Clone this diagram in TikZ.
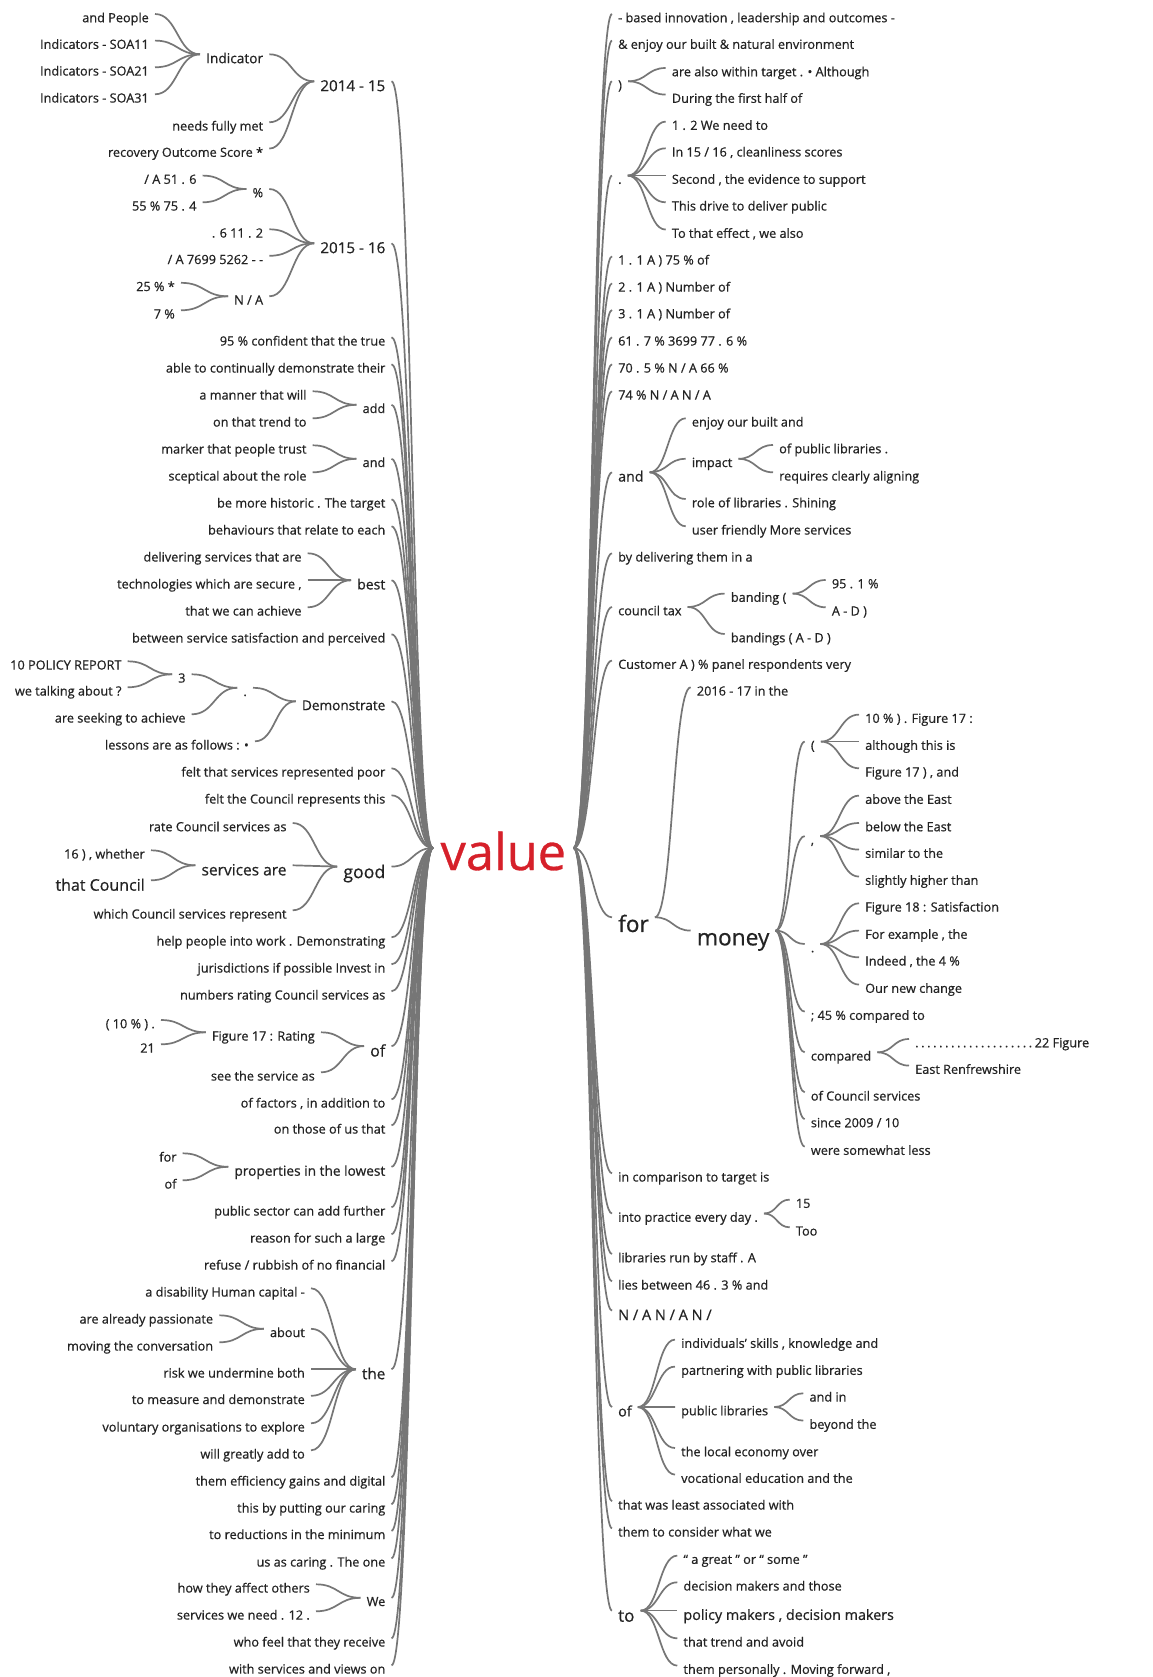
\documentclass[tikz,border=0pt]{standalone}
\usepackage{fontspec}
\setmainfont{Open Sans}[FakeBold=0.6]
\usetikzlibrary{calc}
\definecolor{linkgray}{RGB}{118,118,118}
\definecolor{txt}{RGB}{35,35,35}
\definecolor{rootred}{RGB}{214,32,42}
\newcommand\wtdot{.\hspace{2.6pt}}
\tikzset{
  fs/.style={font=\fontsize{#1}{#1}\selectfont, text height=1.3*#1pt, text depth=0pt},
  word/.style={text=txt, inner ysep=0pt, inner xsep=6pt, fs=12.7},
  lw/.style={word, anchor=east, xshift=6pt, yshift=2.7pt},
  rw/.style={word, anchor=west, xshift=-6pt, yshift=2.7pt},
  root/.style={font=\fontsize{50.5}{50.5}\selectfont, text=rootred, inner ysep=0pt,
    inner xsep=7.5pt, text height=44pt, text depth=0pt},
  link/.style={draw=linkgray, line width=1.7pt,
    to path={let \p1=(\tikztostart), \p2=(\tikztotarget) in
      .. controls ({0.5*\x1+0.5*\x2},\y1) and ({0.5*\x1+0.5*\x2},\y2) .. (\tikztotarget)}},
}
\begin{document}
\begin{tikzpicture}[x=1pt,y=-1pt]
\fill[white] (0,0) rectangle (1152,1677);
\useasboundingbox (0,0) rectangle (1152,1677);

% root
\node[root] (V) at (503.3,848) {value};

% ---------- left branches ----------
\node[lw,fs=15.2] (L1) at (385.5,84) {2014 - 15};
\node[lw,fs=13.7] (L1a) at (263.3,57) {Indicator};
\node[lw] (L1a1) at (149,16.7) {and People};
\node[lw] (L1a2) at (149,43.3) {Indicators - SOA11};
\node[lw] (L1a3) at (149,70) {Indicators - SOA21};
\node[lw] (L1a4) at (149,97) {Indicators - SOA31};
\node[lw] (L1b) at (263.3,125) {needs fully met};
\node[lw] (L1c) at (263.3,151.3) {recovery Outcome Score *};
\node[lw,fs=15.2] (L2) at (385.5,246) {2015 - 16};
\node[lw] (L2a) at (263.3,191.7) {\%};
\node[lw] (L2a1) at (196.7,178.3) {/ A 51 . 6};
\node[lw] (L2a2) at (196.7,205) {55 \% 75 . 4};
\node[lw] (L2b) at (263.3,232) {. 6 11 . 2};
\node[lw] (L2c) at (263.3,258.5) {/ A 7699 5262 - -};
\node[lw] (L2d) at (263.3,299) {N / A};
\node[lw] (L2d1) at (175,285.5) {25 \% *};
\node[lw] (L2d2) at (175,313) {7 \%};
\node[lw] (L3) at (385.5,340) {95 \% confident that the true};
\node[lw] (L4) at (385.5,367) {able to continually demonstrate their};
\node[lw] (L5) at (385.5,407.5) {add};
\node[lw] (L5a) at (306.7,394) {a manner that will};
\node[lw] (L5b) at (306.7,421) {on that trend to};
\node[lw] (L6) at (385.5,461.5) {and};
\node[lw] (L6a) at (306.7,448) {marker that people trust};
\node[lw] (L6b) at (306.7,475) {sceptical about the role};
\node[lw] (L7) at (385.5,502) {be more historic . The target};
\node[lw] (L8) at (385.5,529) {behaviours that relate to each};
\node[lw,fs=14] (L9) at (385.5,583) {best};
\node[lw] (L9a) at (301.7,556) {delivering services that are};
\node[lw] (L9b) at (301.7,583) {technologies which are secure ,};
\node[lw] (L9c) at (301.7,610) {that we can achieve};
\node[lw] (L10) at (385.5,637) {between service satisfaction and perceived};
\node[lw,fs=13.6] (L11) at (385.5,704) {Demonstrate};
\node[lw] (L11a) at (247,690.5) {.};
\node[lw] (L11a1) at (185.7,677) {3};
\node[lw] (L11a1a) at (121.7,664) {10 POLICY REPORT};
\node[lw] (L11a1b) at (121.7,690) {we talking about ?};
\node[lw] (L11a2) at (185.7,717) {are seeking to achieve};
\node[lw] (L11b) at (249,744) {lessons are as follows : •};
\node[lw] (L12) at (385.5,771) {felt that services represented poor};
\node[lw] (L13) at (385.5,798) {felt the Council represents this};
\node[lw,fs=17.7] (L14) at (385.5,869.3) {good};
\node[lw] (L14a) at (286.7,825.7) {rate Council services as};
\node[lw,fs=15.5] (L14b) at (286.7,868) {services are};
\node[lw] (L14b1) at (145,853) {16 ) , whether};
\node[lw,fs=16] (L14b2) at (145,883) {that Council};
\node[lw] (L14c) at (286.7,913) {which Council services represent};
\node[lw] (L15) at (385.5,940) {help people into work . Demonstrating};
\node[lw] (L16) at (385.5,967) {jurisdictions if possible Invest in};
\node[lw] (L17) at (385.5,994) {numbers rating Council services as};
\node[lw,fs=16] (L18) at (385.5,1048.8) {of};
\node[lw] (L18a) at (315,1035) {Figure 17 : Rating};
\node[lw] (L18a1) at (155,1022.7) {( 10 \% ) .};
\node[lw] (L18a2) at (155,1047) {21};
\node[lw] (L18b) at (315,1075) {see the service as};
\node[lw] (L19) at (385.5,1102) {of factors , in addition to};
\node[lw] (L20) at (385.5,1128) {on those of us that};
\node[lw,fs=13.7] (L21) at (385.5,1169.5) {properties in the lowest};
\node[lw] (L21a) at (176.7,1156) {for};
\node[lw] (L21b) at (176.7,1183) {of};
\node[lw] (L22) at (385.5,1210) {public sector can add further};
\node[lw] (L23) at (385.5,1237) {reason for such a large};
\node[lw] (L24) at (385.5,1264) {refuse / rubbish of no financial};
\node[lw,fs=15.2] (L25) at (385.5,1372) {the};
\node[lw] (L25a) at (305,1291) {a disability Human capital -};
\node[lw] (L25b) at (305,1331.5) {about};
\node[lw] (L25b1) at (213.3,1318) {are already passionate};
\node[lw] (L25b2) at (213.3,1345) {moving the conversation};
\node[lw] (L25c) at (305,1372) {risk we undermine both};
\node[lw] (L25d) at (305,1398.5) {to measure and demonstrate};
\node[lw] (L25e) at (305,1426) {voluntary organisations to explore};
\node[lw] (L25f) at (305,1453) {will greatly add to};
\node[lw] (L26) at (385.5,1480) {them efficiency gains and digital};
\node[lw] (L27) at (385.5,1507) {this by putting our caring};
\node[lw] (L28) at (385.5,1533.5) {to reductions in the minimum};
\node[lw] (L29) at (385.5,1561) {us as caring . The one};
\node[lw] (L30) at (385.5,1600.5) {We};
\node[lw] (L30a) at (310,1587) {how they affect others};
\node[lw] (L30b) at (310,1614) {services we need . 12 .};
\node[lw] (L31) at (385.5,1641) {who feel that they receive};
\node[lw] (L32) at (385.5,1668) {with services and views on};

% ---------- right branches ----------
\node[rw] (R1) at (618,16.7) {- based innovation , leadership and outcomes -};
\node[rw] (R2) at (618,43.3) {\& enjoy our built \& natural environment};
\node[rw] (R3) at (618,84) {)};
\node[rw] (R3a) at (671.7,70.7) {are also within target . • Although};
\node[rw] (R3b) at (671.7,97.3) {During the first half of};
\node[rw] (R4) at (618,178.3) {.};
\node[rw] (R4a) at (671.7,124.3) {1 . 2 We need to};
\node[rw] (R4b) at (671.7,151) {In 15 / 16 , cleanliness scores};
\node[rw] (R4c) at (671.7,178.3) {Second , the evidence to support};
\node[rw] (R4d) at (671.7,205) {This drive to deliver public};
\node[rw] (R4e) at (671.7,232.3) {To that effect , we also};
\node[rw] (R5) at (618,259) {1 . 1 A ) 75 \% of};
\node[rw] (R6) at (618,286) {2 . 1 A ) Number of};
\node[rw] (R7) at (618,312.7) {3 . 1 A ) Number of};
\node[rw] (R8) at (618,340) {61 . 7 \% 3699 77 . 6 \%};
\node[rw] (R9) at (618,367) {70 . 5 \% N / A 66 \%};
\node[rw] (R10) at (618,394) {74 \% N / A N / A};
\node[rw,fs=14.2] (R11) at (618,475) {and};
\node[rw] (R11a) at (691.7,421) {enjoy our built and};
\node[rw] (R11b) at (691.7,461.5) {impact};
\node[rw] (R11b1) at (779,447.7) {of public libraries .};
\node[rw] (R11b2) at (779,475) {requires clearly aligning};
\node[rw] (R11c) at (691.7,501.7) {role of libraries . Shining};
\node[rw] (R11d) at (691.7,529) {user friendly More services};
\node[rw] (R12) at (618,556) {by delivering them in a};
\node[rw] (R13) at (618,609.7) {council tax};
\node[rw] (R13a) at (730.7,596.3) {banding (};
\node[rw] (R13a1) at (831.7,582.7) {95 . 1 \%};
\node[rw] (R13a2) at (831.7,610) {A - D )};
\node[rw] (R13b) at (730.7,636.7) {bandings ( A - D )};
\node[rw] (R14) at (618,663.3) {Customer A ) \% panel respondents very};
\node[rw,fs=22.6] (R15) at (618,920) {for};
\node[rw] (R15a) at (696.7,690) {2016 - 17 in the};
\node[rw,fs=22.7] (R15b) at (696.7,933.3) {money};
\node[rw] (M1) at (810.7,744.3) {(};
\node[rw] (M1a) at (865,717.3) {10 \% ) . Figure 17 :};
\node[rw] (M1b) at (865,744.3) {although this is};
\node[rw] (M1c) at (865,771) {Figure 17 ) , and};
\node[rw] (M2) at (810.7,838.8) {,};
\node[rw] (M2a) at (865,798.3) {above the East};
\node[rw] (M2b) at (865,825.7) {below the East};
\node[rw] (M2c) at (865,852.3) {similar to the};
\node[rw] (M2d) at (865,879.3) {slightly higher than};
\node[rw] (M3) at (810.7,946.7) {.};
\node[rw] (M3a) at (865,906) {Figure 18 : Satisfaction};
\node[rw] (M3b) at (865,933.3) {For example , the};
\node[rw] (M3c) at (865,960) {Indeed , the 4 \%};
\node[rw] (M3d) at (865,987.3) {Our new change};
\node[rw] (M4) at (810.7,1014.3) {; 45 \% compared to};
\node[rw] (M5) at (810.7,1055) {compared};
\node[rw] (M5a) at (915,1041.7) {\wtdot\wtdot\wtdot\wtdot\wtdot\wtdot\wtdot\wtdot\wtdot\wtdot\wtdot\wtdot\wtdot\wtdot\wtdot\wtdot\wtdot\wtdot\wtdot\wtdot 22 Figure};
\node[rw] (M5b) at (915,1068.3) {East Renfrewshire};
\node[rw] (M6) at (810.7,1095) {of Council services};
\node[rw] (M7) at (810.7,1121.7) {since 2009 / 10};
\node[rw] (M8) at (810.7,1149.3) {were somewhat less};
\node[rw] (R16) at (618,1176) {in comparison to target is};
\node[rw] (R17) at (618,1216.2) {into practice every day .};
\node[rw] (R17a) at (795.7,1202.3) {15};
\node[rw] (R17b) at (795.7,1230) {Too};
\node[rw] (R18) at (618,1256.7) {libraries run by staff . A};
\node[rw] (R19) at (618,1284) {lies between 46 . 3 \% and};
\node[rw,fs=14.5] (R20) at (618,1313.3) {N / A N / A N /};
\node[rw,fs=14.3] (R21) at (618,1409.8) {of};
\node[rw] (R21a) at (681,1342.3) {individuals' skills , knowledge and};
\node[rw] (R21b) at (681,1369.3) {partnering with public libraries};
\node[rw] (R21c) at (681,1409.7) {public libraries};
\node[rw] (R21c1) at (809.3,1396) {and in};
\node[rw] (R21c2) at (809.3,1423.3) {beyond the};
\node[rw] (R21d) at (681,1450.7) {the local economy over};
\node[rw] (R21e) at (681,1477.3) {vocational education and the};
\node[rw] (R22) at (618,1504) {that was least associated with};
\node[rw] (R23) at (618,1531) {them to consider what we};
\node[rw,fs=17] (R24) at (618,1613.3) {to};
\node[rw] (R24a) at (683.3,1558.3) {“ a great ” or “ some ”};
\node[rw] (R24b) at (683.3,1585) {decision makers and those};
\node[rw,fs=14.3] (R24c) at (683.3,1613.3) {policy makers , decision makers};
\node[rw] (R24d) at (683.3,1641) {that trend and avoid};
\node[rw] (R24e) at (683.3,1668.3) {them personally . Moving forward ,};

% ---------- connectors, left side: child -> parent ----------
\foreach \kid/\mom in {L1/V, L1a/L1, L1b/L1, L1c/L1, L1a1/L1a, L1a2/L1a, L1a3/L1a, L1a4/L1a,
  L2/V, L2a/L2, L2b/L2, L2c/L2, L2d/L2, L2a1/L2a, L2a2/L2a, L2d1/L2d, L2d2/L2d,
  L3/V, L4/V, L5/V, L5a/L5, L5b/L5, L6/V, L6a/L6, L6b/L6, L7/V, L8/V,
  L9/V, L9a/L9, L9b/L9, L9c/L9, L10/V,
  L11/V, L11a/L11, L11b/L11, L11a1/L11a, L11a2/L11a, L11a1a/L11a1, L11a1b/L11a1,
  L12/V, L13/V, L14/V, L14a/L14, L14b/L14, L14c/L14, L14b1/L14b, L14b2/L14b,
  L15/V, L16/V, L17/V, L18/V, L18a/L18, L18b/L18, L18a1/L18a, L18a2/L18a,
  L19/V, L20/V, L21/V, L21a/L21, L21b/L21, L22/V, L23/V, L24/V,
  L25/V, L25a/L25, L25b/L25, L25c/L25, L25d/L25, L25e/L25, L25f/L25, L25b1/L25b, L25b2/L25b,
  L26/V, L27/V, L28/V, L29/V, L30/V, L30a/L30, L30b/L30, L31/V, L32/V}
  \draw[link] (\kid.east) to (\mom.west);

% ---------- connectors, right side: parent -> child ----------
\foreach \mom/\kid in {V/R1, V/R2, V/R3, R3/R3a, R3/R3b, V/R4, R4/R4a, R4/R4b, R4/R4c, R4/R4d, R4/R4e,
  V/R5, V/R6, V/R7, V/R8, V/R9, V/R10,
  V/R11, R11/R11a, R11/R11b, R11/R11c, R11/R11d, R11b/R11b1, R11b/R11b2,
  V/R12, V/R13, R13/R13a, R13/R13b, R13a/R13a1, R13a/R13a2, V/R14,
  V/R15, R15/R15a, R15/R15b, R15b/M1, R15b/M2, R15b/M3, R15b/M4, R15b/M5, R15b/M6, R15b/M7, R15b/M8,
  M1/M1a, M1/M1b, M1/M1c, M2/M2a, M2/M2b, M2/M2c, M2/M2d, M3/M3a, M3/M3b, M3/M3c, M3/M3d,
  M5/M5a, M5/M5b,
  V/R16, V/R17, R17/R17a, R17/R17b, V/R18, V/R19, V/R20,
  V/R21, R21/R21a, R21/R21b, R21/R21c, R21/R21d, R21/R21e, R21c/R21c1, R21c/R21c2,
  V/R22, V/R23, V/R24, R24/R24a, R24/R24b, R24/R24c, R24/R24d, R24/R24e}
  \draw[link] (\mom.east) to (\kid.west);
\end{tikzpicture}
\end{document}
